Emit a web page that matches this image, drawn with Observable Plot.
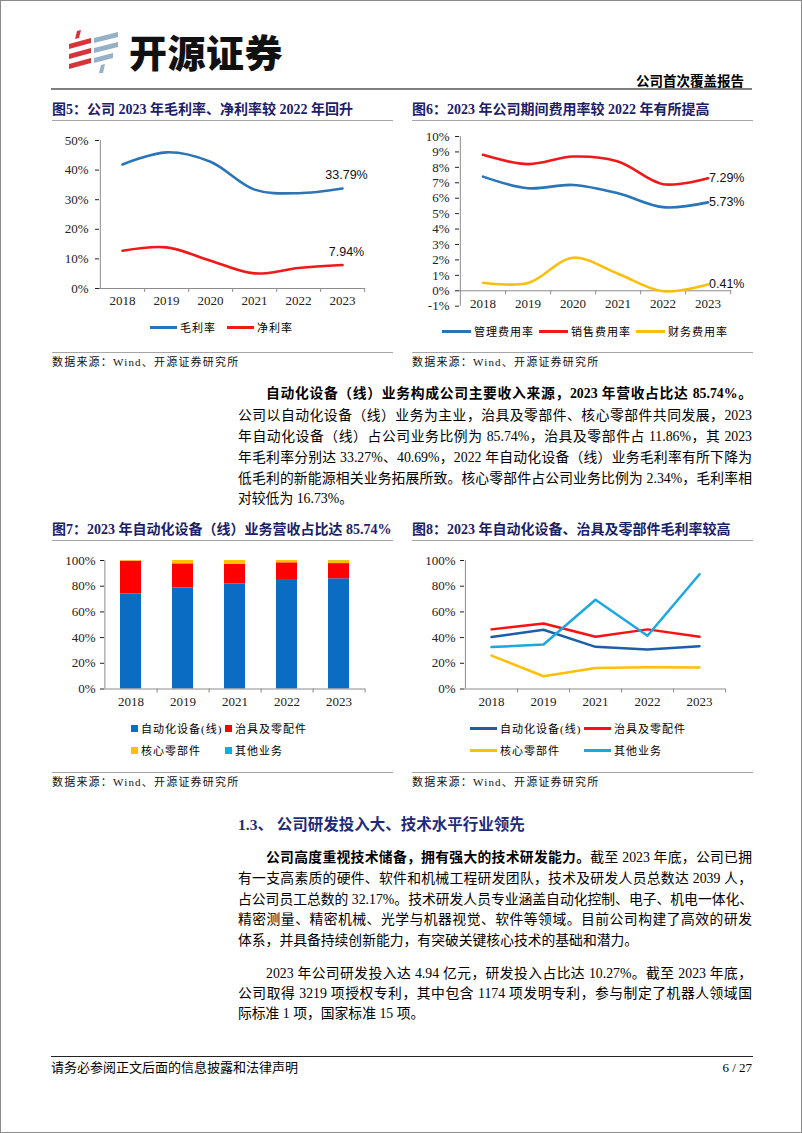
<!DOCTYPE html>
<html lang="zh-CN">
<head>
<meta charset="utf-8">
<script src="https://cdn.jsdelivr.net/npm/d3@7"></script>
<script src="https://cdn.jsdelivr.net/npm/@observablehq/plot@0.6"></script>
<style>
html,body{margin:0;padding:0;background:#fff;}
#page{position:relative;width:802px;height:1133px;overflow:hidden;background:#fff;font-family:"Liberation Serif","Noto Sans CJK SC",serif;color:#000;}
#frame{position:absolute;left:0;top:0;width:800px;height:1131px;border:1px solid #8c8c8c;}
.a{position:absolute;white-space:nowrap;}
.title{font-weight:bold;font-size:14px;line-height:18px;color:#1b2169;}
.hr{position:absolute;height:1px;background:#a6a6a6;}
.src{font-size:11px;line-height:14px;letter-spacing:1.2px;color:#111;}
.ln{position:absolute;height:21px;line-height:21px;font-size:13.8px;text-align:justify;text-align-last:justify;white-space:nowrap;}
.last{text-align-last:left;}
.lg{position:absolute;display:flex;align-items:center;font-size:11px;letter-spacing:1px;white-space:nowrap;height:16px;}
.sw-line{display:inline-block;height:3px;margin-right:3px;}
.sw-sq{display:inline-block;width:7px;height:7px;margin-right:3px;}
.chart{position:absolute;}
</style>
</head>
<body>
<div id="page">
  <div id="frame"></div>
  <!-- header -->
  <svg class="a" style="left:66px;top:29px" width="56" height="46" viewBox="0 0 56 46">
    <g fill="#d8333a">
      <polygon points="11,2 15,1 13,9 9,10"/>
      <polygon points="3,15 25,9 25,14 3,20"/>
      <polygon points="3,25 25,19 25,24 3,30"/>
      <polygon points="3,35 25,29 25,34 3,40"/>
    </g>
    <g fill="#93b1c7">
      <polygon points="28,9 52,3 52,8 28,14"/>
      <polygon points="28,19 52,13 52,18 28,24"/>
      <polygon points="28,29 47,24 47,29 28,34"/>
      <polygon points="35,36 39,35 37,44 33,44"/>
    </g>
  </svg>
  <div class="a" style="left:129px;top:30px;font-family:'Noto Sans CJK SC';font-weight:900;font-size:38px;letter-spacing:0.5px;line-height:42px;color:#111;">开源证券</div>
  <div class="a" style="right:58px;top:74px;font-weight:bold;font-size:13.5px;line-height:16px;">公司首次覆盖报告</div>
  <div class="a" style="left:51px;top:88px;width:701px;height:2px;background:#808080;"></div>

  <!-- figure 5 / 6 titles -->
  <div class="a title" style="left:52px;top:101px;">图5：公司 2023 年毛利率、净利率较 2022 年回升</div>
  <div class="hr" style="left:52px;top:120px;width:341px;"></div>
  <div class="a title" style="left:412px;top:101px;">图6：2023 年公司期间费用率较 2022 年有所提高</div>
  <div class="hr" style="left:412px;top:120px;width:341px;"></div>
  <div id="c5" class="chart" style="left:40px;top:128px;"></div>
  <div id="c6" class="chart" style="left:400px;top:128px;"></div>
  <div class="hr" style="left:52px;top:352px;width:341px;"></div>
  <div class="a src" style="left:52px;top:355px;">数据来源：Wind、开源证券研究所</div>
  <div class="hr" style="left:412px;top:352px;width:341px;"></div>
  <div class="a src" style="left:412px;top:355px;">数据来源：Wind、开源证券研究所</div>

  <!-- text block 1 -->
  <div class="ln" style="left:266px;width:486px;top:382.5px;font-weight:bold;">自动化设备（线）业务构成公司主要收入来源，2023 年营收占比达 85.74%。</div>
  <div class="ln" style="left:238px;width:514px;top:404.5px;">公司以自动化设备（线）业务为主业，治具及零部件、核心零部件共同发展，2023</div>
  <div class="ln" style="left:238px;width:514px;top:425.5px;">年自动化设备（线）占公司业务比例为 85.74%，治具及零部件占 11.86%，其 2023</div>
  <div class="ln" style="left:238px;width:514px;top:446.5px;">年毛利率分别达 33.27%、40.69%，2022 年自动化设备（线）业务毛利率有所下降为</div>
  <div class="ln" style="left:238px;width:514px;top:467.5px;">低毛利的新能源相关业务拓展所致。核心零部件占公司业务比例为 2.34%，毛利率相</div>
  <div class="ln last" style="left:238px;width:514px;top:487.5px;">对较低为 16.73%。</div>

  <!-- figure 7 / 8 titles -->
  <div class="a title" style="left:52px;top:521px;">图7：2023 年自动化设备（线）业务营收占比达 85.74%</div>
  <div class="hr" style="left:52px;top:540px;width:341px;"></div>
  <div class="a title" style="left:412px;top:521px;">图8：2023 年自动化设备、治具及零部件毛利率较高</div>
  <div class="hr" style="left:412px;top:540px;width:341px;"></div>
  <div id="c7" class="chart" style="left:40px;top:548px;"></div>
  <div id="c8" class="chart" style="left:400px;top:548px;"></div>
  <div class="hr" style="left:52px;top:772px;width:341px;"></div>
  <div class="a src" style="left:52px;top:775px;">数据来源：Wind、开源证券研究所</div>
  <div class="hr" style="left:412px;top:772px;width:341px;"></div>
  <div class="a src" style="left:412px;top:775px;">数据来源：Wind、开源证券研究所</div>

  <!-- section 1.3 -->
  <div class="a" style="left:238px;top:815px;font-size:15.5px;line-height:20px;font-weight:bold;color:#1f2b7a;">1.3、 公司研发投入大、技术水平行业领先</div>
  <div class="ln" style="left:266px;width:486px;top:846.5px;"><b>公司高度重视技术储备，拥有强大的技术研发能力。</b>截至 2023 年底，公司已拥</div>
  <div class="ln" style="left:238px;width:514px;top:867.5px;">有一支高素质的硬件、软件和机械工程研发团队，技术及研发人员总数达 2039 人，</div>
  <div class="ln" style="left:238px;width:514px;top:888.5px;">占公司员工总数的 32.17%。技术研发人员专业涵盖自动化控制、电子、机电一体化、</div>
  <div class="ln" style="left:238px;width:514px;top:908.5px;">精密测量、精密机械、光学与机器视觉、软件等领域。目前公司构建了高效的研发</div>
  <div class="ln last" style="left:238px;width:514px;top:929.5px;">体系，并具备持续创新能力，有突破关键核心技术的基础和潜力。</div>
  <div class="ln" style="left:266px;width:486px;top:962.5px;">2023 年公司研发投入达 4.94 亿元，研发投入占比达 10.27%。截至 2023 年底，</div>
  <div class="ln" style="left:238px;width:514px;top:982.5px;">公司取得 3219 项授权专利，其中包含 1174 项发明专利，参与制定了机器人领域国</div>
  <div class="ln last" style="left:238px;width:514px;top:1002.5px;">际标准 1 项，国家标准 15 项。</div>

  <!-- footer -->
  <div class="a" style="left:51px;top:1056px;width:702px;height:1px;background:#222;"></div>
  <div class="a" style="left:51px;top:1058.5px;font-size:13px;line-height:17px;">请务必参阅正文后面的信息披露和法律声明</div>
  <div class="a" style="right:50px;top:1058.5px;font-size:13px;line-height:17px;">6 / 27</div>
</div>

<script>
// ---------- data ----------
const years5 = ["2018", "2019", "2020", "2021", "2022", "2023"];
const series5 = ["毛利率", "净利率"];
const grossMargin = [41.9, 46.0, 42.8, 33.4, 32.2, 33.79];
const netMargin = [12.75, 13.9, 9.4, 5.1, 6.9, 7.94];
const ticks5 = [0, 10, 20, 30, 40, 50];

const years6 = ["2018", "2019", "2020", "2021", "2022", "2023"];
const series6 = ["管理费用率", "销售费用率", "财务费用率"];
const mgmtRate = [7.40, 6.65, 6.86, 6.32, 5.42, 5.73];
const salesRate = [8.81, 8.21, 8.70, 8.38, 6.91, 7.29];
const finRate = [0.52, 0.50, 2.14, 1.10, -0.03, 0.41];
const ticks6 = [-1, 0, 1, 2, 3, 4, 5, 6, 7, 8, 9, 10];

const years7 = ["2018", "2019", "2021", "2022", "2023"];
const series7 = ["自动化设备(线)", "治具及零配件", "核心零部件", "其他业务"];
const autoShare = [74.0, 78.6, 81.8, 85.2, 85.74];
const fixtureShare = [25.5, 18.8, 15.3, 13.0, 11.86];
const coreShare = [0.5, 2.6, 2.9, 1.8, 2.34];
const otherShare = [0.0, 0.0, 0.0, 0.0, 0.06];
const ticks7 = [0, 20, 40, 60, 80, 100];

const years8 = ["2018", "2019", "2021", "2022", "2023"];
const series8 = ["自动化设备(线)", "治具及零配件", "核心零部件", "其他业务"];
const autoGM = [40.4, 46.1, 32.8, 30.7, 33.27];
const fixtureGM = [46.4, 51.0, 40.6, 46.4, 40.69];
const coreGM = [26.0, 9.9, 16.4, 16.9, 16.73];
const otherGM = [32.6, 34.6, 69.5, 41.4, 89.3];
const ticks8 = [0, 20, 40, 60, 80, 100];

// ---------- styles ----------
const colors5 = ["#2a74b8", "#f01818"];
const colors6 = ["#2a74b8", "#f01818", "#fbbf0a"];
const colors7 = ["#0a6cc2", "#ff0000", "#ffc000", "#00b0f0"];
const colors8 = ["#1e5ea8", "#ff1010", "#ffc000", "#1ba8e0"];

function longData(cats, names, arrays) {
  const out = [];
  cats.forEach((c, i) => names.forEach((n, j) => out.push({year: c, series: n, value: arrays[j][i]})));
  return out;
}
const baseStyle = {fontFamily: '"Liberation Serif","Noto Sans CJK SC",serif', fontSize: "13px", background: "transparent", overflow: "visible", color: "#222"};
const axisGray = "#8c8c8c";
const pct = d => d + "%";

function frameMarks(cats, step) {
  return [
    Plot.ruleY([0], {stroke: axisGray}),
    Plot.ruleX(cats.slice(0, 1), {x: d => d, dx: -step / 2, stroke: axisGray}),
    Plot.ruleX(cats, {x: d => d, dx: step / 2, y1: () => 0, y2: () => 0, insetBottom: -4, stroke: axisGray})
  ];
}

const W = 360;

// ---------- chart 5 ----------
const m5 = {top: 12, bottom: 30, left: 59, right: 35, height: 190};
const step5 = (W - m5.left - m5.right) / years5.length;
const data5 = longData(years5, series5, [grossMargin, netMargin]);
const last5 = data5.filter(d => d.year === years5[years5.length - 1]);
document.getElementById("c5").append(Plot.plot({
  width: W, height: m5.height, marginTop: m5.top, marginBottom: m5.bottom, marginLeft: m5.left, marginRight: m5.right,
  style: baseStyle,
  x: {type: "band", domain: years5, padding: 0, tickSize: 0, tickPadding: 7, label: null},
  y: {domain: [0, 50], ticks: ticks5, tickFormat: pct, tickSize: 4, tickPadding: 7, label: null},
  color: {domain: series5, range: colors5},
  marks: [
    ...frameMarks(years5, step5),
    Plot.line(data5, {x: "year", y: "value", z: "series", stroke: "series", strokeWidth: 2.6, curve: "catmull-rom"}),
    Plot.text(last5, {x: "year", y: "value", text: d => d.value.toFixed(2) + "%", dy: -13, dx: 4, fontFamily: "Liberation Sans", fontSize: 12.5, fill: "#111"})
  ]
}));

// ---------- chart 6 ----------
const m6 = {top: 8, bottom: 12.3, left: 59, right: 29, height: 190};
const step6 = (W - m6.left - m6.right) / years6.length;
const data6 = longData(years6, series6, [mgmtRate, salesRate, finRate]);
const last6 = data6.filter(d => d.year === years6[years6.length - 1]);
document.getElementById("c6").append(Plot.plot({
  width: W, height: m6.height, marginTop: m6.top, marginBottom: m6.bottom, marginLeft: m6.left, marginRight: m6.right,
  style: baseStyle,
  x: {type: "band", domain: years6, padding: 0, tickSize: 0, tickPadding: -7, label: null},
  y: {domain: [-1, 10], ticks: ticks6, tickFormat: pct, tickSize: 4, tickPadding: 6, label: null},
  color: {domain: series6, range: colors6},
  marks: [
    ...frameMarks(years6, step6),
    Plot.line(data6, {x: "year", y: "value", z: "series", stroke: "series", strokeWidth: 2.6, curve: "catmull-rom"}),
    Plot.text(last6, {x: "year", y: "value", text: d => d.value.toFixed(2) + "%", textAnchor: "start", dx: 1, fontFamily: "Liberation Sans", fontSize: 12.5, fill: "#111"})
  ]
}));

// ---------- chart 7 ----------
const m7 = {top: 12, bottom: 34.5, left: 64, right: 35, height: 175};
const step7 = (W - m7.left - m7.right) / years7.length;
const data7 = longData(years7, series7, [autoShare, fixtureShare, coreShare, otherShare]);
document.getElementById("c7").append(Plot.plot({
  width: W, height: m7.height, marginTop: m7.top, marginBottom: m7.bottom, marginLeft: m7.left, marginRight: m7.right,
  style: baseStyle,
  x: {type: "band", domain: years7, paddingInner: 0.6, paddingOuter: 0.3, tickSize: 0, tickPadding: 8, label: null},
  y: {domain: [0, 100], ticks: ticks7, tickFormat: pct, tickSize: 4, tickPadding: 5, label: null},
  color: {domain: series7, range: colors7},
  marks: [
    Plot.barY(data7, {x: "year", y: "value", fill: "series"}),
    ...frameMarks(years7, step7)
  ]
}));

// ---------- chart 8 ----------
const m8 = {top: 12, bottom: 34.5, left: 64, right: 35, height: 175};
const step8 = (W - m8.left - m8.right) / years8.length;
const data8 = longData(years8, series8, [autoGM, fixtureGM, coreGM, otherGM]);
document.getElementById("c8").append(Plot.plot({
  width: W, height: m8.height, marginTop: m8.top, marginBottom: m8.bottom, marginLeft: m8.left, marginRight: m8.right,
  style: baseStyle,
  x: {type: "band", domain: years8, padding: 0, tickSize: 0, tickPadding: 8, label: null},
  y: {domain: [0, 100], ticks: ticks8, tickFormat: pct, tickSize: 4, tickPadding: 5, label: null},
  color: {domain: series8, range: colors8},
  marks: [
    ...frameMarks(years8, step8),
    Plot.line(data8, {x: "year", y: "value", z: "series", stroke: "series", strokeWidth: 2.5})
  ]
}));

// ---------- legends ----------
const page = document.getElementById("page");
function addLegend(names, colors, pos, kind, sw) {
  names.forEach((name, i) => {
    const div = document.createElement("div");
    div.className = "lg";
    div.style.left = pos[i][0] + "px";
    div.style.top = pos[i][1] + "px";
    const s = document.createElement("span");
    s.className = kind === "line" ? "sw-line" : "sw-sq";
    if (kind === "line") s.style.width = sw + "px";
    s.style.background = colors[i];
    div.append(s, document.createTextNode(name));
    page.append(div);
  });
}
addLegend(series5, colors5, [[150, 319], [227, 319]], "line", 27);
addLegend(series6, colors6, [[442, 323], [539, 323], [636, 323]], "line", 29);
addLegend(series7, colors7, [[131, 720], [225, 720], [131, 742], [225, 742]], "square");
addLegend(series8, colors8, [[470, 720], [584, 720], [470, 742], [584, 742]], "line", 27);
</script>
</body>
</html>
